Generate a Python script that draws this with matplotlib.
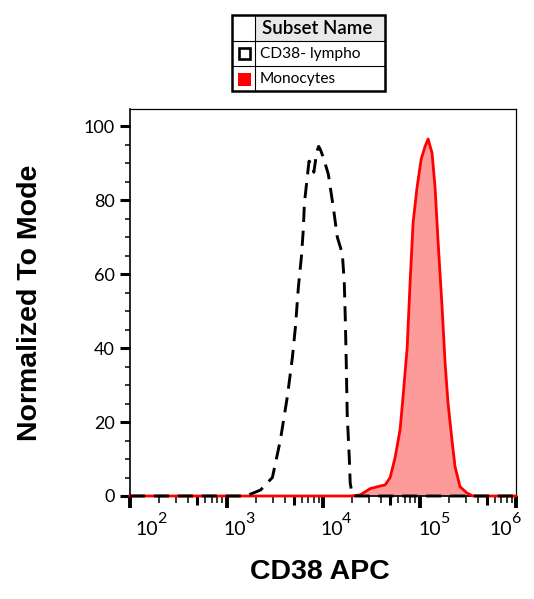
import numpy as np
import matplotlib
matplotlib.use("Agg")
import matplotlib.pyplot as plt
from matplotlib.patches import Rectangle
from matplotlib.ticker import LogLocator, MultipleLocator, NullLocator, NullFormatter
from matplotlib.transforms import blended_transform_factory, ScaledTranslation

plt.rcParams["font.family"] = ["Lato", "DejaVu Sans"]

# Histogram CD38- lympho (tracejado preto)
lympho_x = [100, 1500, 1690, 2250, 2990, 3610, 4280, 4820, 5180, 5560, 5970, 6250, 6410,
            6890, 7160, 7590, 8040, 8610, 9020, 9440, 10070, 11350, 12790, 14060, 15850,
            16600, 17020, 17420, 17820, 18710, 19140, 20090, 21400, 1e6]
lympho_y = [0, 0, 0.3, 1.6, 5, 15, 27, 37.5, 45.7, 56.5, 64.6, 72, 79,
            86.5, 90.5, 90, 87.5, 93, 94.5, 93.5, 91.5, 87, 78, 70, 65.5,
            58, 48, 36, 22, 10.5, 3.5, 0.3, 0, 0]

# Histogram Monocytes (vermelho preenchido)
mono_x = [100, 19140, 24320, 30830, 39170, 44060, 49660, 55980, 62950, 67610, 74470,
          79980, 85900, 94410, 104000, 114300, 122700, 134900, 144900, 155600, 171400,
          184100, 197700, 217300, 233300, 263000, 310500, 358100, 1e6]
mono_y = [0, 0, 0.3, 2, 2.7, 3, 5, 10.5, 18, 27, 40,
          58, 74, 83.5, 91, 94.5, 96.5, 92.7, 83.5, 69, 51,
          36, 25, 15, 8, 2.5, 0.8, 0, 0]

decade_ticks = [1e2, 1e3, 1e4, 1e5, 1e6]
decade_exps = ["2", "3", "4", "5", "6"]
half_ticks = [5e2, 5e3, 5e4, 5e5]
subset_names = ["CD38- lympho", "Monocytes"]

W, H = 534, 599
fig = plt.figure(figsize=(W / 100, H / 100), dpi=100)
ax = fig.add_axes([130 / W, 1 - 496 / H, (516 - 130) / W, (496 - 109) / H])

ax.fill_between(mono_x, mono_y, 0, color="#fd9b9b", lw=0, zorder=2)
ax.plot(mono_x, mono_y, color="#ff0000", lw=2.0, zorder=3, clip_on=False,
        solid_joinstyle="round")
ax.plot(lympho_x, lympho_y, color="black", lw=2.1, ls=(0, (5.2, 3.0)), zorder=4,
        clip_on=False)

ax.set_xscale("log")
ax.set_xlim(1e2, 1e6)
ax.set_ylim(0, 104.6)

ax.set_xticks(decade_ticks)
ax.xaxis.set_minor_locator(LogLocator(base=10, subs=(2, 3, 4, 6, 7, 8, 9)))
ax.xaxis.set_minor_formatter(NullFormatter())
ax.set_xticklabels([])
ax.tick_params(axis="x", which="major", length=8.6, width=2.8, direction="out")
ax.tick_params(axis="x", which="minor", length=5, width=1.1, direction="out")

sec = ax.secondary_xaxis("bottom")
sec.set_xticks(half_ticks)
sec.xaxis.set_minor_locator(NullLocator())
sec.set_xticklabels([])
sec.tick_params(axis="x", length=6.5, width=2.2, direction="out")
sec.spines["bottom"].set_visible(False)

ax.yaxis.set_major_locator(MultipleLocator(20))
ax.yaxis.set_minor_locator(MultipleLocator(5))
ax.tick_params(axis="y", which="major", length=7.2, width=2.2, pad=3.6, labelsize=13)
ax.tick_params(axis="y", which="minor", length=3.6, width=1.1)

for side in ["top", "right"]:
    ax.spines[side].set_linewidth(0.9)
ax.spines["left"].set_linewidth(1.2)
ax.spines["bottom"].set_linewidth(1.2)

# rótulos das décadas (10 + expoente), deslocados como no original
trans = blended_transform_factory(ax.transData, ax.transAxes)
left_offsets = [5, -3, -3, -1, -27]
for v, e, off in zip(decade_ticks, decade_exps, left_offsets):
    t_base = trans + ScaledTranslation(off / 100, -39 / 100, fig.dpi_scale_trans)
    ax.text(v, 0, "10", transform=t_base, ha="left", va="baseline", fontsize=14)
    t_exp = trans + ScaledTranslation((off + 22) / 100, -27 / 100, fig.dpi_scale_trans)
    ax.text(v, 0, e, transform=t_exp, ha="left", va="baseline", fontsize=11.5)

fig.text(320 / W, 1 - 572 / H, "CD38 APC", ha="center", va="center", fontsize=20.5,
         fontweight="bold", family="Liberation Sans")
fig.text(30 / W, 1 - 303 / H, "Normalized To Mode", ha="center", va="center",
         rotation=90, fontsize=20.5, fontweight="bold", family="Liberation Sans")

# legenda em forma de tabela
lx0, lx1, ly0, ly1 = 232, 385, 15, 91
lax = fig.add_axes([lx0 / W, 1 - ly1 / H, (lx1 - lx0) / W, (ly1 - ly0) / H])
lax.set_xlim(0, lx1 - lx0)
lax.set_ylim(ly1 - ly0, 0)
lax.axis("off")
cw = 23
lax.add_patch(Rectangle((cw, 0), lx1 - lx0 - cw, 26, fc="#e9e9e9", ec="none"))
lax.plot([cw, cw], [0, ly1 - ly0], color="black", lw=0.8)
lax.plot([0, lx1 - lx0], [26, 26], color="black", lw=0.8)
lax.plot([0, lx1 - lx0], [51, 51], color="black", lw=0.8)
lax.add_patch(Rectangle((0, 0), lx1 - lx0, ly1 - ly0, fc="none", ec="black", lw=1.8,
                        clip_on=False))
lax.add_patch(Rectangle((6.5, 33), 11, 11, fc="white", ec="black", lw=1.9))
lax.add_patch(Rectangle((5.5, 57.5), 13, 13, fc="#ff0000", ec="none"))
lax.text(30, 13.5, "Subset Name", ha="left", va="center", fontsize=13.5, fontweight="semibold")
lax.text(28, 39, subset_names[0], ha="left", va="center", fontsize=11.2)
lax.text(28, 64.5, subset_names[1], ha="left", va="center", fontsize=11.2)

fig.savefig("out.png", dpi=100)
